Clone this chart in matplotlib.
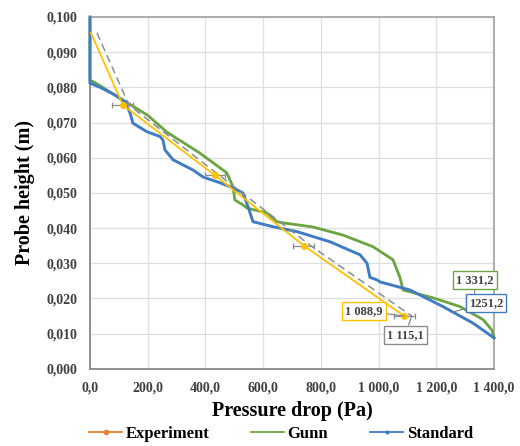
import numpy as np
import matplotlib.pyplot as plt
from matplotlib.lines import Line2D

# datos
exp_p = [3, 114, 433, 741, 1088.9]
exp_h = [0.0955, 0.075, 0.055, 0.035, 0.015]
exp_err = [0, 36, 36, 36, 36]

dash_p = [24, 135, 448, 765, 1115.1]
dash_h = [0.0955, 0.075, 0.055, 0.035, 0.015]

gunn_p = [0, 0, 14, 132, 201, 266, 381, 474, 496, 502, 530, 544, 613, 648, 669,
          773, 877, 981, 1050, 1074, 1085, 1188, 1282, 1362, 1393, 1400]
gunn_h = [0.0995, 0.082, 0.0815, 0.0755, 0.072, 0.0673, 0.0613, 0.0557, 0.0517,
          0.048, 0.0466, 0.0457, 0.0443, 0.0418, 0.0415, 0.0403, 0.038, 0.0347,
          0.031, 0.026, 0.0224, 0.0202, 0.0177, 0.014, 0.011, 0.0088]

std_p = [0, 0, 35, 87, 121, 139, 149, 197, 243, 253, 260, 288, 357, 392, 450, 496,
         530, 548, 565, 634, 717, 832, 936, 960, 970, 994, 1005, 1109, 1223, 1327, 1400]
std_h = [0.100, 0.0812, 0.080, 0.0778, 0.0759, 0.0727, 0.0698, 0.0674, 0.066,
         0.065, 0.0622, 0.0594, 0.0565, 0.0545, 0.0529, 0.0514, 0.05, 0.046,
         0.0418, 0.0404, 0.039, 0.0361, 0.0324, 0.030, 0.026, 0.0253, 0.0247,
         0.0224, 0.0177, 0.013, 0.0088]

xticks = np.arange(0, 1401, 200)
xlabels = ['0,0', '200,0', '400,0', '600,0', '800,0', '1 000,0', '1 200,0', '1 400,0']
yticks = np.arange(0, 0.1001, 0.01)
ylabels = ['0,000', '0,010', '0,020', '0,030', '0,040', '0,050', '0,060', '0,070',
           '0,080', '0,090', '0,100']

plt.rcParams['font.family'] = ['Liberation Serif', 'DejaVu Serif']

c_yel = '#FFC000'
c_org = '#ED7D31'
c_grn = '#6BA542'
c_blu = '#3F7CC4'
c_gry = '#8C8C8C'

fig = plt.figure(figsize=(5.2, 4.46), dpi=100)
ax = fig.add_axes([0.173, 0.173, 0.777, 0.789])

ax.plot(gunn_p, gunn_h, color=c_grn, lw=2.0, zorder=3, clip_on=False)
ax.plot(std_p, std_h, color=c_blu, lw=2.1, zorder=4, clip_on=False)
ax.plot(exp_p, exp_h, color=c_yel, lw=1.3, zorder=5)
ax.plot(dash_p, dash_h, color=c_gry, lw=1.1, ls=(0, (5, 3)), zorder=5)
ax.errorbar(exp_p[1:], exp_h[1:], xerr=exp_err[1:], fmt='o', ms=4,
            color=c_yel, mec=c_yel, ecolor=c_gry, elinewidth=0.9, capsize=2,
            capthick=0.9, zorder=6)

ax.set_xlim(0, 1400)
ax.set_ylim(0, 0.1)
ax.set_xticks(xticks)
ax.set_xticklabels(xlabels)
ax.set_yticks(yticks)
ax.set_yticklabels(ylabels)
ax.tick_params(length=0, labelsize=10, labelcolor='#404040', pad=9)
for lab in ax.get_xticklabels() + ax.get_yticklabels():
    lab.set_fontweight('bold')
ax.grid(True, color='#DEDEDE', lw=0.9)
ax.set_axisbelow(True)
for s in ax.spines.values():
    s.set_color('#A0A0A0')
    s.set_linewidth(1.2)
ax.spines['left'].set_color('#7F7F7F')
ax.spines['bottom'].set_color('#7F7F7F')

ax.set_xlabel('Pressure drop (Pa)', fontsize=14.5, fontweight='bold', labelpad=5)
ax.set_ylabel('Probe height (m)', fontsize=14.5, fontweight='bold', labelpad=8)

# etiquetas de datos
def etiqueta(txt, xy, xytext, borde, z=7):
    ax.annotate(txt, xy=xy, xytext=xytext, fontsize=9, fontweight='bold',
                color='#404040', ha='center', va='center', zorder=z,
                bbox=dict(boxstyle='square,pad=0.25', fc='white', ec=borde, lw=1),
                arrowprops=dict(arrowstyle='-', color='#7F7F7F', lw=0.8,
                                shrinkA=0, shrinkB=0),
                annotation_clip=False)

etiqueta('1 331,2', (1331.2, 0.0155), (1334, 0.0253), c_grn, z=7)
etiqueta('1251,2', (1251.2, 0.0160), (1372, 0.0188), c_blu, z=8)
etiqueta('1 088,9', (1088.9, 0.015), (950, 0.0165), c_yel, z=8)
etiqueta('1 115,1', (1115.1, 0.015), (1092, 0.0097), c_gry, z=8)

handles = [Line2D([], [], color=c_org, marker='o', ms=3, lw=1.3),
           Line2D([], [], color=c_grn, lw=1.3),
           Line2D([], [], color=c_blu, marker='o', ms=2, lw=1.3)]
fig.legend(handles, ['Experiment', 'Gunn', 'Standard'], loc='center',
           bbox_to_anchor=(0.54, 0.028), ncol=3, frameon=False,
           handlelength=2.0, handletextpad=0.2, columnspacing=2.5,
           prop=dict(weight='bold', size=12))

fig.savefig('out.png', dpi=100)
